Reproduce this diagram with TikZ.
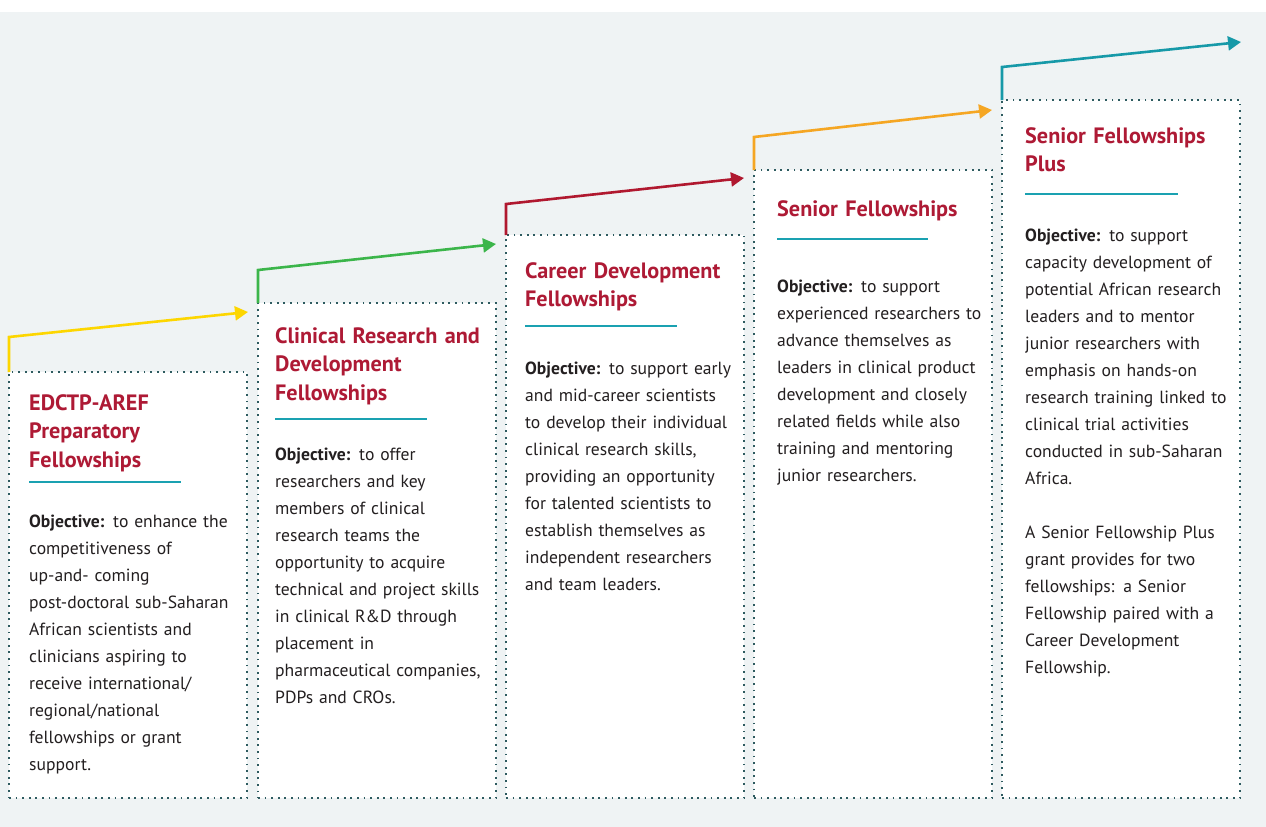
\documentclass[tikz,border=0pt]{standalone}
\usepackage{fontspec}
\setmainfont{PT Sans}
\usetikzlibrary{arrows.meta}

\definecolor{panel}{HTML}{EFF3F4}
\definecolor{dotline}{HTML}{2E5B60}
\definecolor{headred}{HTML}{AE1A35}
\definecolor{bodytext}{HTML}{231F20}
\definecolor{rule}{HTML}{1AA1B1}
\definecolor{ylw}{HTML}{FDD600}
\definecolor{grn}{HTML}{3BB54A}
\definecolor{red}{HTML}{B0182F}
\definecolor{org}{HTML}{F5A623}
\definecolor{tea}{HTML}{1699A8}

\begin{document}
\begin{tikzpicture}[x=1pt,y=-1pt,
    fbox/.style={draw=dotline,fill=white,line width=1.8pt,dash pattern=on 1.8pt off 4.8pt,
                 inner sep=0pt,outer sep=0pt,anchor=north west,minimum width=238pt},
    head/.style={anchor=base west,inner sep=0pt,text width=230pt,align=left,
                 text=headred,font=\fontsize{22.2}{28.7}\selectfont\bfseries},
    body/.style={anchor=base west,inner sep=0pt,text width=230pt,align=left,
                 text=bodytext,font=\fontsize{17.6}{27}\selectfont},
    rise/.style={line width=2.6pt,-{Triangle[length=13pt,width=14pt]}},
    uline/.style={draw=rule,line width=2pt}
  ]
  \useasboundingbox (0,0) rectangle (1266,827);
  \fill[white] (0,0) rectangle (1266,12);
  \fill[panel] (0,12) rectangle (1266,827);

  % the five stages
  \node[fbox,minimum height=426pt] (b1) at (9,372) {};
  \node[fbox,minimum height=495pt] (b2) at (258,303) {};
  \node[fbox,minimum height=563pt] (b3) at (506,235) {};
  \node[fbox,minimum height=628pt] (b4) at (754,170) {};
  \node[fbox,minimum height=698pt] (b5) at (1002,100) {};

  % arrow ends
  \coordinate (t1) at (248,312);
  \coordinate (t2) at (496,244);
  \coordinate (t3) at (744,178);
  \coordinate (t4) at (992,110);
  \coordinate (t5) at (1241,42);

  \draw[rise,draw=ylw] (b1.north west) -- ++(0,-35) -- (t1);
  \draw[rise,draw=grn] (b2.north west) -- ++(0,-33) -- (t2);
  \draw[rise,draw=red] (b3.north west) -- ++(0,-31) -- (t3);
  \draw[rise,draw=org] (b4.north west) -- ++(0,-33) -- (t4);
  \draw[rise,draw=tea] (b5.north west) -- ++(0,-33) -- (t5);

  % headings
  \node[head] (h1) at (29,410) {EDCTP-AREF\\Preparatory\\Fellowships};
  \node[head] (h2) at (275,343) {Clinical Research and\\Development\\Fellowships};
  \node[head] (h3) at (525,278) {Career Development\\Fellowships};
  \node[head] (h4) at (777,216) {Senior Fellowships};
  \node[head] (h5) at (1025,143) {Senior Fellowships\\Plus};

  \draw[uline] (29,482) -- (181,482);
  \draw[uline] (275,419) -- (427,419);
  \draw[uline] (525,326) -- (677,326);
  \draw[uline] (777,239) -- (928,239);
  \draw[uline] (1025,194) -- (1178,194);

  % objectives
  \node[body] (o1) at (29,527) {\textbf{Objective:} to enhance the\\competitiveness of\\up-and- coming\\post-doctoral sub-Saharan\\African scientists and\\clinicians aspiring to\\receive international/\\regional/national\\fellowships or grant\\support.};
  \node[body] (o2) at (275,460) {\textbf{Objective:} to offer\\researchers and key\\members of clinical\\research teams the\\opportunity to acquire\\technical and project skills\\in clinical R\&D through\\placement in\\pharmaceutical companies,\\PDPs and CROs.};
  \node[body] (o3) at (525,374) {\textbf{Objective:} to support early\\and mid-career scientists\\to develop their individual\\clinical research skills,\\providing an opportunity\\for talented scientists to\\establish themselves as\\independent researchers\\and team leaders.};
  \node[body] (o4) at (777,292) {\textbf{Objective:} to support\\experienced researchers to\\advance themselves as\\leaders in clinical product\\development and closely\\related fields while also\\training and mentoring\\junior researchers.};
  \node[body] (o5) at (1025,241) {\textbf{Objective:} to support\\capacity development of\\potential African research\\leaders and to mentor\\junior researchers with\\emphasis on hands-on\\research training linked to\\clinical trial activities\\conducted in sub-Saharan\\Africa.\\[27pt]A Senior Fellowship Plus\\grant provides for two\\fellowships: a Senior\\Fellowship paired with a\\Career Development\\Fellowship.};
\end{tikzpicture}
\end{document}
